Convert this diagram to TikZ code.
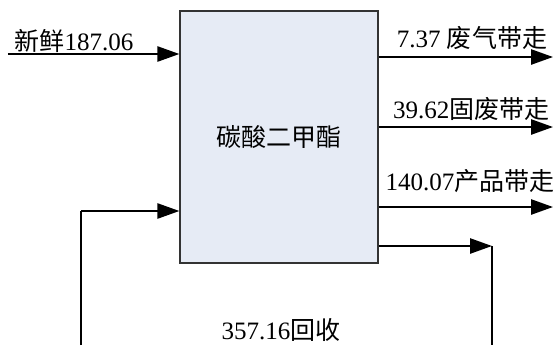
\documentclass[tikz,border=0pt]{standalone}
\usepackage{fontspec}
\setmainfont{Liberation Serif}
\newfontfamily\cjk{Noto Sans CJK SC}
\usetikzlibrary{arrows.meta}
\definecolor{boxfill}{HTML}{E6EBF5}
\definecolor{boxline}{HTML}{333333}
\tikzset{
  flow/.style={line width=1.4pt, -{Triangle[length=0.55cm,width=0.38cm]}},
  plainflow/.style={line width=1.4pt},
  lbl/.style={inner sep=0pt, font=\fontsize{17.8}{20}\selectfont}
}
\begin{document}
\begin{tikzpicture}[x=1cm,y=1cm]
\useasboundingbox (0,0) rectangle (14,-8.625);
\node[draw=boxline, line width=0.9pt, fill=boxfill, minimum width=4.95cm, minimum height=6.3cm, lbl] (dmc) at (6.975,-3.425) {\cjk 碳酸二甲酯};
% feed
\coordinate (feed) at (0.2,-1.35);
\node[lbl] (feedlbl) at (1.85,-1.02) {\cjk 新鲜\rmfamily187.06};
\draw[flow] (feed) -- (feed -| dmc.west);
% outlets
\coordinate (gas) at (13.825,-1.425);
\coordinate (solid) at (13.825,-3.175);
\coordinate (prod) at (13.825,-5.175);
\draw[flow] (gas -| dmc.east) -- (gas);
\draw[flow] (solid -| dmc.east) -- (solid);
\draw[flow] (prod -| dmc.east) -- (prod);
\node[lbl] (gaslbl) at (11.8,-0.94) {7.37 {\cjk 废气带走}};
\node[lbl] (solidlbl) at (11.78,-2.72) {39.62{\cjk 固废带走}};
\node[lbl] (prodlbl) at (11.75,-4.53) {140.07{\cjk 产品带走}};
% recycle loop
\coordinate (rcA) at (12.3,-6.15);
\coordinate (rcB) at (12.3,-8.625);
\coordinate (rcC) at (2.025,-8.625);
\coordinate (rcD) at (2.025,-5.275);
\draw[flow] (rcA -| dmc.east) -- (rcA);
\draw[plainflow] (rcA) -- (rcB);
\draw[plainflow] (rcC) -- (rcD);
\draw[flow] (rcD) -- (rcD -| dmc.west);
\node[lbl] (rclbl) at (7.025,-8.25) {357.16{\cjk 回收}};
\end{tikzpicture}
\end{document}
